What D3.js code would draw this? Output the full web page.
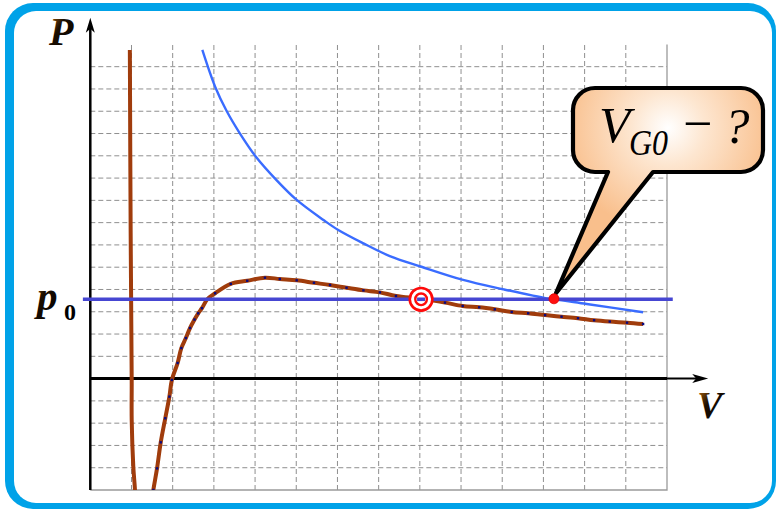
<!DOCTYPE html>
<html>
<head>
<meta charset="utf-8">
<script src="https://cdn.jsdelivr.net/npm/d3@7/dist/d3.min.js"></script>
<style>
  html, body { margin: 0; padding: 0; background: #ffffff; }
  svg { display: block; }
  .serif { font-family: "Liberation Serif", "Times New Roman", "DejaVu Serif", serif; }
</style>
</head>
<body>
<svg id="chart" width="776" height="509"></svg>
<script>
// Isotherm of a real gas (brown) and ideal gas (blue), in grid units.
const brownV = [0.96, 0.98, 1.005, 1.005, 1.044, 1.085, 1.13, 1.25, 1.40, 1.53, 1.62, 1.71, 1.82, 1.92, 1.98,
                2.12, 2.21, 2.32, 2.42, 2.53, 2.62, 2.71, 2.84, 3.03, 3.41, 3.81, 4.24, 4.60, 5.01, 5.43,
                5.82, 6.22, 6.63, 7.03, 7.42, 8.03, 8.61, 9.04, 9.44, 9.82, 10.23, 10.63, 11.04, 11.44,
                11.84, 12.23, 12.61, 13.03, 13.42];
const brownP = [14.75, 6.5, -0.06, -1.86, -3.95, -5.0, -6.6, -7.8, -6.6, -5.0, -4.03, -2.86, -1.78, -0.81, -0.06,
                0.70, 1.37, 1.82, 2.27, 2.65, 2.93, 3.16, 3.56, 3.83, 4.25, 4.39, 4.53, 4.47, 4.41, 4.30,
                4.20, 4.08, 3.96, 3.87, 3.71, 3.58, 3.41, 3.26, 3.20, 3.11, 2.99, 2.93, 2.85, 2.78,
                2.71, 2.62, 2.56, 2.51, 2.45];
const blueV = [2.72, 3.03, 3.31, 3.63, 4.02, 4.52, 5.01, 5.66, 6.02, 6.63, 7.27, 8.04, 9.05, 10.02, 11.08, 11.28, 12.05, 13.42];
const blueP = [14.75, 13.10, 12.01, 11.01, 9.96, 8.91, 8.02, 7.12, 6.67, 6.07, 5.50, 5.02, 4.43, 4.01, 3.60, 3.56, 3.35, 2.98];

const p0 = 3.56;          // saturated vapour pressure line
const vCross = 8.03;      // where the real-gas isotherm meets p0
const vG0 = 11.28;        // where the ideal-gas isotherm meets p0
const markerFrom = 1.5;   // dots are shown on the gas branch only

const xDomain = [0, 14];
const yDomain = [-5, 15];
const axisLabels = { y: "P", x: "V", p: "p", pSub: "0" };

const svg = d3.select("#chart");
const defs = svg.append("defs");

const x = d3.scaleLinear().domain(xDomain).range([90.3, 667]);
const y = d3.scaleLinear().domain(yDomain).range([490, 44.4]);

// ---- outer frame ----
svg.append("rect").attr("x", 5).attr("y", 3).attr("width", 771).attr("height", 506)
  .attr("rx", 28).attr("fill", "#00a2e8");
svg.append("rect").attr("x", 14).attr("y", 11).attr("width", 758).attr("height", 492)
  .attr("rx", 22).attr("fill", "#ffffff");

// ---- grid ----
const grid = svg.append("g").attr("stroke", "#8f8f8f").attr("stroke-width", 1)
  .attr("stroke-dasharray", "5,3").attr("fill", "none");
x.ticks(14).filter(v => v > xDomain[0] && v < xDomain[1]).forEach(v => {
  grid.append("line").attr("x1", x(v)).attr("x2", x(v)).attr("y1", y(yDomain[0])).attr("y2", y(yDomain[1]));
});
y.ticks(20).filter(v => v > yDomain[0] && v < yDomain[1] && v !== 0).forEach(v => {
  grid.append("line").attr("x1", x(xDomain[0])).attr("x2", x(xDomain[1])).attr("y1", y(v)).attr("y2", y(v));
});
// solid right and bottom border
svg.append("path")
  .attr("d", `M${x(xDomain[0])},${y(yDomain[0])}H${x(xDomain[1])}V${y(yDomain[1])}`)
  .attr("stroke", "#9a9a9a").attr("stroke-width", 1.3).attr("fill", "none");

// ---- clip for curves ----
defs.append("clipPath").attr("id", "plotClip").append("rect")
  .attr("x", x(xDomain[0])).attr("y", y(yDomain[1]))
  .attr("width", x(xDomain[1]) - x(xDomain[0])).attr("height", y(yDomain[0]) - y(yDomain[1]));

const line = d3.line().x(d => x(d[0])).y(d => y(d[1])).curve(d3.curveCatmullRom.alpha(0.5));

// ---- x axis ----
svg.append("line").attr("x1", x(0)).attr("x2", x(14)).attr("y1", y(0)).attr("y2", y(0))
  .attr("stroke", "#000").attr("stroke-width", 3);
svg.append("line").attr("x1", x(14)).attr("x2", x(15) - 8).attr("y1", y(0)).attr("y2", y(0))
  .attr("stroke", "#000").attr("stroke-width", 2);
svg.append("path")
  .attr("d", `M${x(15)},${y(0)}L${x(15) - 16},${y(0) - 4.5}L${x(15) - 12},${y(0)}L${x(15) - 16},${y(0) + 4.5}Z`)
  .attr("fill", "#000");

// ---- y axis ----
const yTop = y(16.2);
svg.append("line").attr("x1", x(0)).attr("x2", x(0)).attr("y1", y(yDomain[0])).attr("y2", yTop + 8)
  .attr("stroke", "#000").attr("stroke-width", 2.5);
svg.append("path")
  .attr("d", `M${x(0)},${yTop}L${x(0) - 4.5},${yTop + 15}L${x(0)},${yTop + 11}L${x(0) + 4.5},${yTop + 15}Z`)
  .attr("fill", "#000");

// ---- curves ----
const curves = svg.append("g").attr("clip-path", "url(#plotClip)");
curves.append("path").datum(blueV.map((v, i) => [v, blueP[i]]))
  .attr("d", line).attr("fill", "none").attr("stroke", "#3a6cff").attr("stroke-width", 2.4);

const brown = brownV.map((v, i) => [v, brownP[i]]);
curves.append("path").datum(brown)
  .attr("d", line).attr("fill", "none").attr("stroke", "#a03c0c").attr("stroke-width", 4)
  .attr("stroke-linejoin", "round");
curves.selectAll("rect.dot").data(brown.filter(d => d[0] >= markerFrom)).join("rect")
  .attr("class", "dot")
  .attr("x", d => x(d[0]) - 1.2).attr("y", d => y(d[1]) - 1.2)
  .attr("width", 2.4).attr("height", 2.4).attr("fill", "#0a0a80");

// ---- p0 line ----
svg.append("line").attr("x1", x(-0.18)).attr("x2", x(14.14)).attr("y1", y(p0)).attr("y2", y(p0))
  .attr("stroke", "#4646d2").attr("stroke-width", 3.6);

// ---- target marker at the crossing ----
const tx = x(vCross), ty = y(p0);
svg.append("circle").attr("cx", tx).attr("cy", ty).attr("r", 11.3)
  .attr("fill", "#fff").attr("stroke", "#ff0a0a").attr("stroke-width", 2.6);
svg.append("line").attr("x1", tx - 4).attr("x2", tx + 4).attr("y1", ty).attr("y2", ty)
  .attr("stroke", "#4646d2").attr("stroke-width", 3.6);
svg.append("circle").attr("cx", tx).attr("cy", ty).attr("r", 5.8)
  .attr("fill", "none").attr("stroke", "#ff0a0a").attr("stroke-width", 2.4);

// ---- label gradient ----
const lg = defs.append("linearGradient").attr("id", "labelGrad")
  .attr("x1", 0).attr("y1", 0).attr("x2", 1).attr("y2", 1);
lg.append("stop").attr("offset", "0").attr("stop-color", "#d27a14");
lg.append("stop").attr("offset", "0.42").attr("stop-color", "#1c0e00");
lg.append("stop").attr("offset", "1").attr("stop-color", "#000");

svg.append("text").attr("class", "serif").attr("x", 49).attr("y", 45)
  .attr("font-size", 40).attr("font-weight", "bold").attr("font-style", "italic")
  .attr("fill", "url(#labelGrad)").text(axisLabels.y);
svg.append("text").attr("class", "serif").attr("x", 697).attr("y", 418)
  .attr("font-size", 38).attr("font-weight", "bold").attr("font-style", "italic")
  .attr("fill", "url(#labelGrad)").text(axisLabels.x);
svg.append("text").attr("class", "serif").attr("x", 37).attr("y", 310)
  .attr("font-size", 41).attr("font-weight", "bold").attr("font-style", "italic")
  .attr("fill", "url(#labelGrad)").text(axisLabels.p);
svg.append("text").attr("class", "serif").attr("x", 64).attr("y", 320)
  .attr("font-size", 24).attr("font-weight", "bold")
  .attr("fill", "#000").text(axisLabels.pSub);

// ---- callout ----
const cg = defs.append("radialGradient").attr("id", "calloutGrad")
  .attr("gradientUnits", "userSpaceOnUse").attr("cx", 668).attr("cy", 128).attr("r", 105);
cg.append("stop").attr("offset", "0").attr("stop-color", "#ffffff");
cg.append("stop").attr("offset", "0.35").attr("stop-color", "#fde6d0");
cg.append("stop").attr("offset", "1").attr("stop-color", "#f9bf8c");

const gx = x(vG0), gy = y(p0);
const bx0 = 573, bx1 = 763, by0 = 88, by1 = 172, r = 22;
const callout = d3.path();
callout.moveTo(bx0 + r, by0);
callout.lineTo(bx1 - r, by0);
callout.arcTo(bx1, by0, bx1, by0 + r, r);
callout.lineTo(bx1, by1 - r);
callout.arcTo(bx1, by1, bx1 - r, by1, r);
callout.lineTo(653, by1);
callout.lineTo(gx + 1, gy - 6);
callout.lineTo(608, by1);
callout.lineTo(bx0 + r, by1);
callout.arcTo(bx0, by1, bx0, by1 - r, r);
callout.lineTo(bx0, by0 + r);
callout.arcTo(bx0, by0, bx0 + r, by0, r);
callout.closePath();
svg.append("path").attr("d", callout.toString())
  .attr("fill", "url(#calloutGrad)").attr("stroke", "#000").attr("stroke-width", 4.2)
  .attr("stroke-linejoin", "round");

svg.append("text").attr("class", "serif").attr("x", 599).attr("y", 142)
  .attr("font-size", 51).attr("font-style", "italic").attr("fill", "#000").text("V");
svg.append("text").attr("class", "serif").attr("x", 629).attr("y", 155)
  .attr("font-size", 36).attr("font-style", "italic").attr("fill", "#000")
  .attr("textLength", 39).attr("lengthAdjust", "spacingAndGlyphs").text("G0");
svg.append("text").attr("class", "serif").attr("x", 683).attr("y", 141)
  .attr("font-size", 52).attr("fill", "#000").text("−");
svg.append("text").attr("class", "serif").attr("x", 724).attr("y", 143)
  .attr("font-size", 51).attr("font-style", "italic").attr("fill", "#000").text("?");

// ---- red point where the ideal isotherm reaches p0 ----
svg.append("circle").attr("cx", gx - 1).attr("cy", gy - 0.5).attr("r", 5)
  .attr("fill", "#ff1010").attr("stroke", "#e00000").attr("stroke-width", 0.8);
</script>
</body>
</html>
